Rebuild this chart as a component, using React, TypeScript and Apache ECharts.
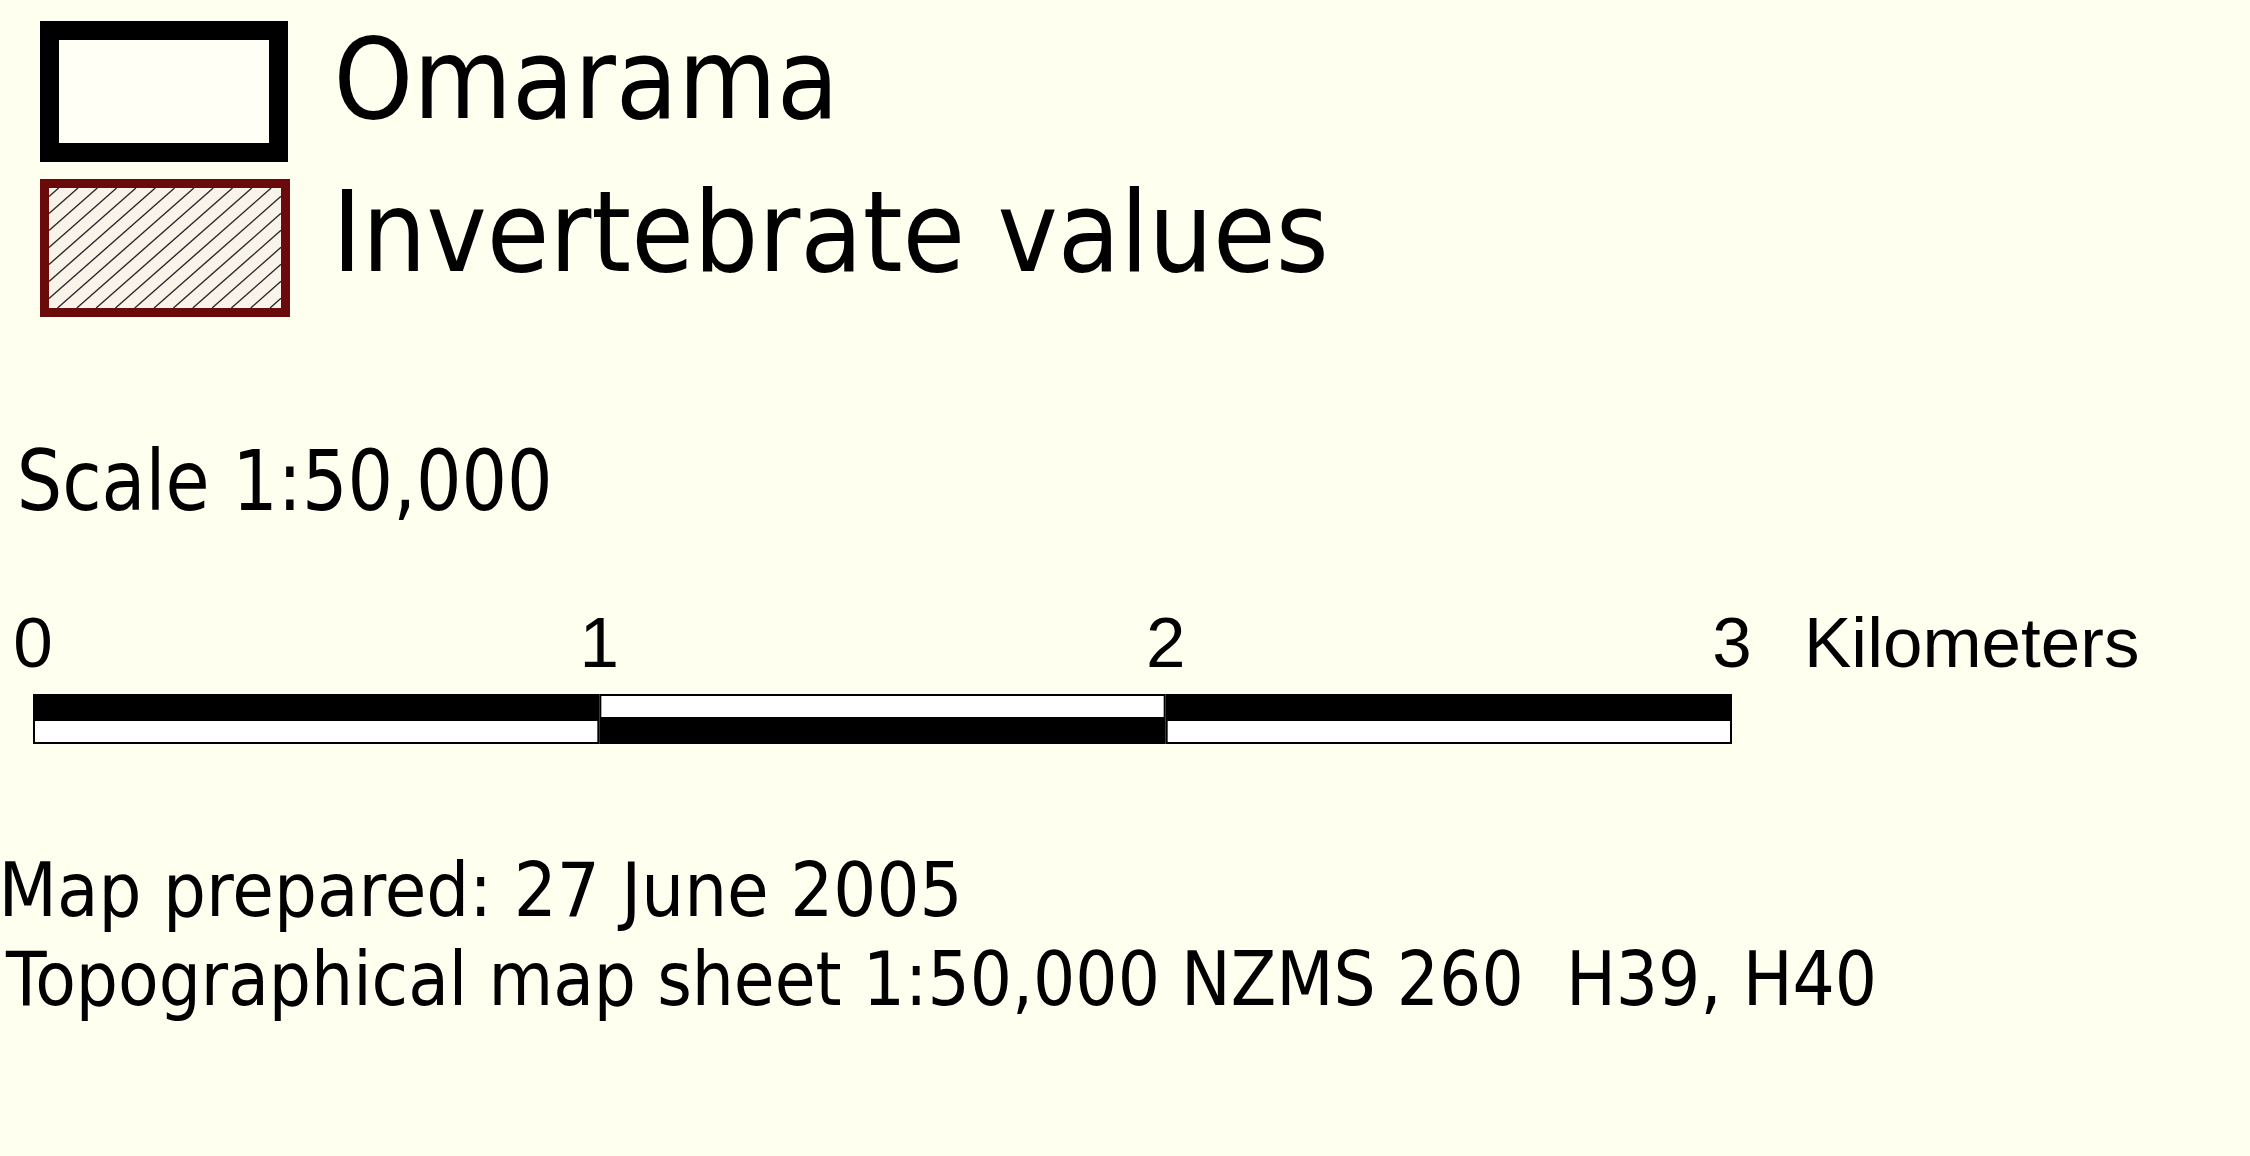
import React, { useEffect, useRef } from 'react';
import * as echarts from 'echarts';

// ---- content ----
const legendLabels = ['Omarama', 'Invertebrate values'];
const scaleTitle = 'Scale 1:50,000';
const scaleTicks = [0, 1, 2, 3];
const scaleUnit = 'Kilometers';
const upperSegments = [1, 1, 1];
const lowerSegments = [1, 1, 1];
const footnotes = [
  'Map prepared: 27 June 2005',
  'Topographical map sheet 1:50,000 NZMS 260  H39, H40',
];

const BG = '#ffffef';
const TEXT_FONT = 'DejaVu Sans';
const BAR_FONT = 'Liberation Sans';

function fittedText(text: string, size: number, left: number, right: number, cy: number) {
  const ctx = document.createElement('canvas').getContext('2d') as CanvasRenderingContext2D;
  ctx.font = `${size}px "${TEXT_FONT}"`;
  const m = ctx.measureText(text);
  const inkW = m.actualBoundingBoxLeft + m.actualBoundingBoxRight;
  const sx = inkW > 0 ? (right - left) / inkW : 1;
  return {
    type: 'text',
    x: left + m.actualBoundingBoxLeft * sx,
    y: cy,
    scaleX: sx,
    silent: true,
    style: {
      text,
      x: 0,
      y: 0,
      fill: '#000',
      font: `${size}px "${TEXT_FONT}"`,
      fontSize: size,
      fontFamily: TEXT_FONT,
      align: 'left',
      verticalAlign: 'middle',
    },
  };
}

function hatchLines(x0: number, y0: number, x1: number, y1: number, k: number, step: number) {
  const out: any[] = [];
  const bMin = y0 + k * x0;
  const bMax = y1 + k * x1;
  for (let b = bMin + step / 2; b < bMax; b += step) {
    const xa = Math.max(x0, (b - y1) / k);
    const xb = Math.min(x1, (b - y0) / k);
    if (xb > xa) {
      out.push({
        type: 'line',
        silent: true,
        shape: { x1: xa, y1: b - k * xa, x2: xb, y2: b - k * xb },
        style: { stroke: '#2a2a2a', lineWidth: 1.4 },
      });
    }
  }
  return out;
}

export default function App() {
  const ref = useRef<HTMLDivElement>(null);
  useEffect(() => {
    if (!ref.current) return;
    const chart = echarts.init(ref.current, undefined, { renderer: 'svg' });

    const series = upperSegments.map((u, i) => ({
      type: 'bar',
      stack: 'scale',
      barWidth: '100%',
      silent: true,
      itemStyle: { borderColor: '#000', borderWidth: 2 },
      data: [
        { value: u, itemStyle: { color: i % 2 === 0 ? '#000000' : '#ffffff' } },
        { value: lowerSegments[i], itemStyle: { color: i % 2 === 0 ? '#ffffff' : '#000000' } },
      ],
    }));

    const graphics: any[] = [
      // Omarama legend box
      {
        type: 'rect',
        silent: true,
        shape: { x: 49.5, y: 30.5, width: 229, height: 122 },
        style: { fill: '#fffff6', stroke: '#000', lineWidth: 19 },
      },
      // Invertebrate legend box
      {
        type: 'rect',
        silent: true,
        shape: { x: 44.5, y: 183.5, width: 241, height: 129 },
        style: { fill: '#faf3ea', stroke: 'none' },
      },
      ...hatchLines(49, 188, 281, 308, 0.88, 17),
      {
        type: 'rect',
        silent: true,
        shape: { x: 44.5, y: 183.5, width: 241, height: 129 },
        style: { fill: 'none', stroke: '#6b0a0a', lineWidth: 9 },
      },
      fittedText(legendLabels[0], 112, 339, 830, 79),
      fittedText(legendLabels[1], 112, 342, 1324, 232),
      fittedText(scaleTitle, 84, 21, 548, 481),
      fittedText(footnotes[0], 74, 5, 957, 890),
      fittedText(footnotes[1], 74, 5, 1873, 980),
    ];

    chart.setOption({
      animation: false,
      backgroundColor: BG,
      grid: { left: 33, top: 694, width: 1699, height: 50, containLabel: false },
      xAxis: {
        type: 'value',
        position: 'top',
        min: scaleTicks[0],
        max: scaleTicks[scaleTicks.length - 1],
        interval: 1,
        axisLine: { show: false },
        axisTick: { show: false },
        splitLine: { show: false },
        axisLabel: {
          show: true,
          margin: 16,
          color: '#000',
          fontFamily: BAR_FONT,
          fontSize: 71,
        },
        name: scaleUnit,
        nameLocation: 'end',
        nameGap: 72,
        nameTextStyle: {
          color: '#000',
          fontFamily: BAR_FONT,
          fontSize: 71,
          verticalAlign: 'bottom',
          lineHeight: 104,
        },
      },
      yAxis: {
        type: 'category',
        inverse: true,
        show: false,
        data: ['upper', 'lower'],
      },
      series,
      graphic: graphics,
    });
    return () => chart.dispose();
  }, []);
  return (
    <div
      ref={ref}
      style={{ position: 'fixed', left: 0, top: 0, width: 2250, height: 1156, background: BG }}
    />
  );
}
